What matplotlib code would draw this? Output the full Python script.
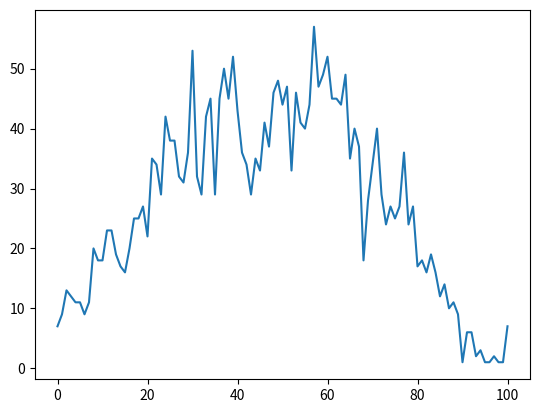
import matplotlib.pyplot as plt
import numpy as np

plt.rcParams['font.family'] = ['Noto Sans CJK KR', 'DejaVu Sans']

x = np.arange(0, 101)
y = [7, 9, 13, 12, 11, 11, 9, 11, 20, 18,
     18, 23, 23, 19, 17, 16, 20, 25, 25, 27,
     22, 35, 34, 29, 42, 38, 38, 32, 31, 36,
     53, 32, 29, 42, 45, 29, 45, 50, 45, 52,
     43, 36, 34, 29, 35, 33, 41, 37, 46, 48,
     44, 47, 33, 46, 41, 40, 44, 57, 47, 49,
     52, 45, 45, 44, 49, 35, 40, 37, 18, 28,
     34, 40, 29, 24, 27, 25, 27, 36, 24, 27,
     17, 18, 16, 19, 16, 12, 14, 10, 11, 9,
     1, 6, 6, 2, 3, 1, 1, 2, 1, 1,
     7]

fig = plt.figure(figsize=(5.4, 4.12), dpi=100)
ax = fig.add_axes([35 / 540, 33 / 412, 495 / 540, 369 / 412])
ax.plot(x, y)

fig.savefig('out.png', dpi=100)
